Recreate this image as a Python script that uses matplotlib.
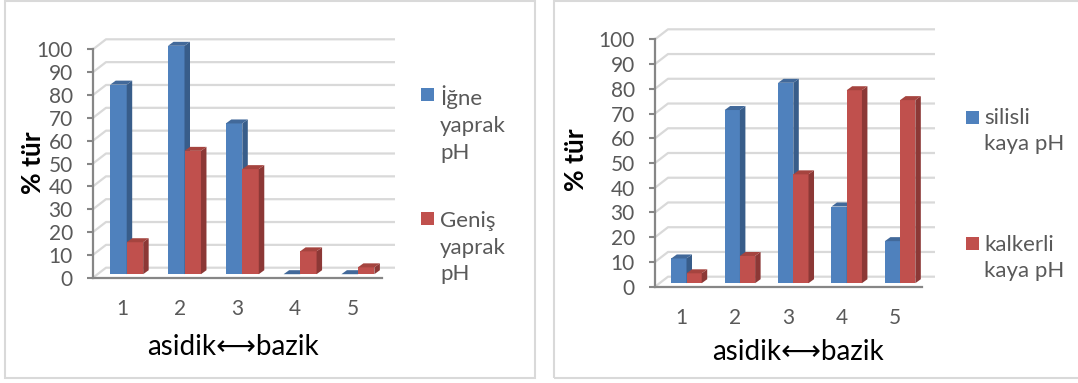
import matplotlib
matplotlib.use("Agg")
import matplotlib.pyplot as plt
from matplotlib.patches import Polygon, Rectangle

W, H, DPI = 1078, 383, 100

categories = ["1", "2", "3", "4", "5"]
x_title = "asidik⟷bazik"
y_title = "% tür"
y_ticks = list(range(0, 101, 10))

# left chart: leaf type
needle_ph = [83, 100, 66, 0, 0]
broad_ph = [14, 54, 46, 10, 3]
leaf_labels = ["İğne\nyaprak\npH", "Geniş\nyaprak\npH"]

# right chart: bedrock type
siliceous_ph = [10, 70, 81, 31, 17]
calcareous_ph = [4, 11, 44, 78, 74]
rock_labels = ["silisli\nkaya pH", "kalkerli\nkaya pH"]

BLUE = dict(front="#4F81BD", side="#385D8A", top="#42699A")
RED = dict(front="#C0504D", side="#8C3836", top="#A5443F")
GRID = "#D9D9D9"
SPINE = "#868686"
TXT = "#595959"

plt.rcParams["font.family"] = ["Lato", "DejaVu Sans"]


def px_axes(fig, left, top, right, bottom):
    return fig.add_axes([left / W, 1 - bottom / H, (right - left) / W, (bottom - top) / H])


def fig_rect(fig, x, y, w, h, **kw):
    fig.add_artist(Rectangle((x / W, 1 - (y + h) / H), w / W, h / H,
                             transform=fig.transFigure, **kw))


def bar3d(ax, x0, v, bw, base, dx, dy, col, z):
    ax.bar(x0, v, width=bw, bottom=base, align="edge", color=col["front"],
           linewidth=0, clip_on=False, zorder=z)
    top = base + v
    ax.add_patch(Polygon([(x0 + bw, base), (x0 + bw + dx, base + dy),
                          (x0 + bw + dx, top + dy), (x0 + bw, top)],
                         closed=True, color=col["side"], lw=0, clip_on=False, zorder=z))
    ax.add_patch(Polygon([(x0, top), (x0 + dx, top + dy),
                          (x0 + bw + dx, top + dy), (x0 + bw, top)],
                         closed=True, color=col["top"], lw=0, clip_on=False, zorder=z))


def panel(fig, box, series, xlab_pos, ylab_pos):
    left, top, right, bottom = box
    ax = px_axes(fig, left, top, right, bottom)
    n = len(categories)
    ax.set_xlim(-0.5, n - 0.5)
    ax.set_ylim(0, 100)
    ax.patch.set_visible(False)
    wpx = (right - left) / n
    hpx = (bottom - top) / 100

    # back wall / side wall offsets (pixels -> data)
    bx, by = 13 / wpx, 10 / hpx
    sx, sy = 4.8 / wpx, 3.5 / hpx
    dx, dy = 5.5 / wpx, 4.0 / hpx

    for v in y_ticks:
        ax.plot([-0.5, -0.5 + bx, n - 0.5 + bx], [v, v + by, v + by],
                color=GRID, lw=1.6, clip_on=False, zorder=1, solid_capstyle="butt")

    bw = 0.285
    for i in range(n):
        for j, (vals, col) in enumerate(series):
            x0 = i - bw + j * bw + sx
            bar3d(ax, x0, vals[i], bw, sy, dx, dy, col, 2 + j)

    for s in ["top", "right"]:
        ax.spines[s].set_visible(False)
    for s in ["left", "bottom"]:
        ax.spines[s].set_color(SPINE)
        ax.spines[s].set_linewidth(1.6)
        ax.spines[s].set_zorder(6)

    ax.set_yticks(y_ticks)
    ax.set_xticks(range(n))
    ax.set_xticklabels(categories)
    ax.tick_params(axis="y", direction="out", length=4.5, width=1.5, color=SPINE,
                   labelsize=15, labelcolor=TXT, pad=10)
    ax.tick_params(axis="x", length=0, labelsize=15, labelcolor=TXT, pad=15)

    ax.set_xlabel(x_title, fontsize=20, color="black", va="center")
    ax.xaxis.set_label_coords((xlab_pos[0] - left) / (right - left),
                              (bottom - xlab_pos[1]) / (bottom - top))
    ax.set_ylabel(y_title, fontsize=19, fontweight="bold", color="black", va="center")
    ax.yaxis.set_label_coords((ylab_pos[0] - left) / (right - left),
                              (bottom - ylab_pos[1]) / (bottom - top))
    return ax


def legend(fig, x_sq, text_x, entries):
    for label, col, sq_y, text_y in entries:
        fig_rect(fig, x_sq, sq_y, 13, 13, color=col["front"], lw=0)
        fig.text(text_x / W, 1 - text_y / H, label, fontsize=16, color=TXT,
                 ha="left", va="center", linespacing=1.43)


fig = plt.figure(figsize=(W / DPI, H / DPI), dpi=DPI)
fig.patch.set_facecolor("white")

# panel frames
fig_rect(fig, 5, 1, 529.5, 377, fill=False, edgecolor=GRID, lw=1.5)
fig_rect(fig, 554, 1, 540, 377, fill=False, edgecolor=GRID, lw=1.5)

panel(fig, (93, 49.3, 382, 277.7),
      [(needle_ph, BLUE), (broad_ph, RED)],
      xlab_pos=(233, 347), ylab_pos=(33, 163))
legend(fig, 421, 440, [(leaf_labels[0], BLUE, 88, 124),
                       (leaf_labels[1], RED, 211.5, 247.5)])

panel(fig, (655, 39.3, 922, 286.7),
      [(siliceous_ph, BLUE), (calcareous_ph, RED)],
      xlab_pos=(798, 352), ylab_pos=(576, 160))
legend(fig, 966, 984, [(rock_labels[0], BLUE, 111, 131),
                       (rock_labels[1], RED, 237, 258)])

fig.savefig("out.png", dpi=DPI, facecolor="white")
